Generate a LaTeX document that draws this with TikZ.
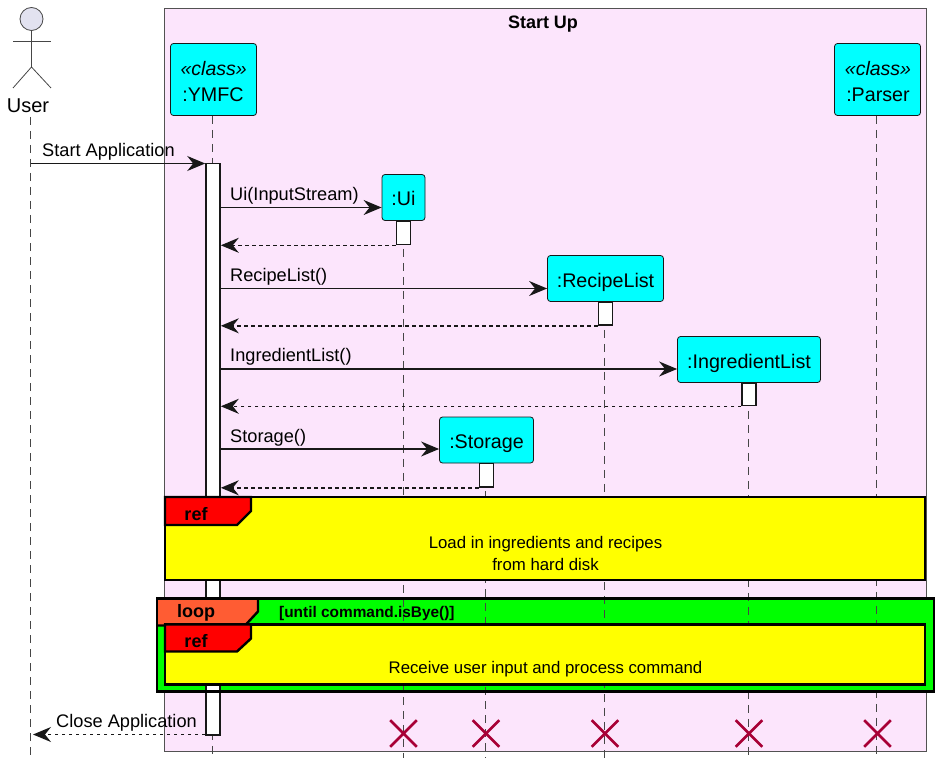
\documentclass[tikz,border=0pt]{standalone}
\usepackage{fontspec}
\setmainfont{Liberation Sans}
\usepackage{xcolor}
\usepackage{tikz}
\usetikzlibrary{arrows.meta}
\usetikzlibrary{calc}
\usetikzlibrary{shapes.misc}
\definecolor{linedark}{HTML}{181818}
\definecolor{groupfill}{HTML}{FCE5FC}
\definecolor{actorfill}{HTML}{E2E2F0}
\definecolor{headfill}{HTML}{00FFFF}
\definecolor{reffill}{HTML}{FFFF00}
\definecolor{tabred}{HTML}{FF0000}
\definecolor{loopfill}{HTML}{00FF00}
\definecolor{looptab}{HTML}{FF5C33}
\definecolor{destroyred}{HTML}{A80036}
\tikzset{
  head/.style={draw=linedark, line width=0.8pt, fill=headfill, rounded corners=3pt, inner sep=0pt, text height=17pt, text depth=0pt, font=\fontsize{19.7}{24}\selectfont},
  headtext/.style={anchor=base, inner sep=0pt, font=\fontsize{19.7}{24}\selectfont},
  lifeline/.style={draw=linedark!80, line width=0.8pt, dash pattern=on 8pt off 6pt},
  bar/.style={draw=linedark, line width=1.6pt, fill=white, minimum width=14pt, inner sep=0pt},
  msg/.style={draw=linedark, line width=1.4pt, -{Stealth[length=18pt, width=15pt, inset=6pt]}},
  ret/.style={msg, dash pattern=on 3.5pt off 3.5pt},
  msglabel/.style={anchor=west, inner sep=0pt, font=\fontsize{18.2}{22}\selectfont},
  reftext/.style={inner sep=0pt, align=center, font=\fontsize{16.8}{22}\selectfont},
  tabtext/.style={inner sep=0pt, font=\bfseries\fontsize{18}{22}\selectfont},
  frameline/.style={draw=black, line width=2.2pt, outer sep=0pt},
  tabline/.style={draw=black, line width=2.4pt},
  cross/.style={cross out, draw=destroyred, line width=2.6pt, minimum size=24pt, inner sep=0pt},
}
\begin{document}
\begin{tikzpicture}[x=1pt, y=-1pt]
    \useasboundingbox (0,0) rectangle (941,767);

    % group box
    \node[draw=linedark!75, line width=1.2pt, fill=groupfill, minimum width=762pt, minimum height=743pt, inner sep=0pt] (group) at (545.5,380) {};
    \node[tabtext] (groupTitle) at (543,24.5) {Start Up};

    % green body of the loop sits under lifelines and bars
    \node[fill=loopfill, minimum width=777pt, minimum height=93pt, inner sep=0pt] (loopBody) at (545.5,645) {};

    % heads
    \node[head, minimum width=86pt, minimum height=72pt, text height=0pt] (hYMFC) at (213.5,79.5) {};
    \node[head, minimum width=86pt, minimum height=72pt, text height=0pt] (hParser) at (877.5,79.5) {};
    \node[headtext, font=\itshape\fontsize{19.5}{24}\selectfont] (cYMFC) at (213.7,75.5) {«class»};
    \node[headtext] (tYMFC) at (213,101.5) {:YMFC};
    \node[headtext, font=\itshape\fontsize{19.5}{24}\selectfont] (cParser) at (878,75.5) {«class»};
    \node[headtext] (tParser) at (878,101.5) {:Parser};
    \node[head, minimum width=43pt, minimum height=46pt] (hUi) at (403.5,197.5) {:Ui};
    \node[head, minimum width=116pt, minimum height=46pt] (hRecipe) at (605.5,278.5) {:RecipeList};
    \node[head, minimum width=143pt, minimum height=46pt] (hIngredient) at (749,359.5) {:IngredientList};
    \node[head, minimum width=94pt, minimum height=46pt] (hStorage) at (486.5,440) {:Storage};

    % actor
    \node[circle, draw=linedark!80, line width=0.8pt, fill=actorfill, minimum size=23pt, inner sep=0pt] (actorHead) at (31.5,19) {};
    \coordinate (actorHip) at (31.5,67);
    \draw[draw=linedark!80, line width=0.8pt] (actorHead.south) -- (actorHip);
    \draw[draw=linedark!80, line width=0.8pt] (13,41) -- (51,41);
    \draw[draw=linedark!80, line width=0.8pt] (13,88) -- (actorHip) -- (51,88);
    \node[inner sep=0pt, font=\fontsize{20}{24}\selectfont] (actorName) at (28,106) {User};

    % lifelines
    \coordinate (endUser) at (30.5,757);
    \coordinate (endYMFC) at (212,755);
    \coordinate (endParser) at (876.5,755);
    \coordinate (endUi) at (403.5,758);
    \coordinate (endStorage) at (485.5,758);
    \coordinate (endRecipe) at (604.5,758);
    \coordinate (endIngredient) at (748,760);
    \coordinate (startUser) at (30.5,117);
    \draw[lifeline] (startUser) -- (endUser);
    \draw[lifeline] (hYMFC.south -| endYMFC) -- (endYMFC);
    \draw[lifeline] (hParser.south -| endParser) -- (endParser);
    \draw[lifeline] (hUi.south -| endUi) -- (endUi);
    \draw[lifeline] (hStorage.south -| endStorage) -- (endStorage);
    \draw[lifeline] (hRecipe.south -| endRecipe) -- (endRecipe);
    \draw[lifeline] (hIngredient.south -| endIngredient) -- (endIngredient);

    % activation bars
    \node[bar, minimum height=571.5pt] (barYMFC) at (213,449.25) {};
    \node[bar, minimum height=23.5pt] (barUi) at (403.5,232.75) {};
    \node[bar, minimum height=23pt] (barRecipe) at (605.5,313.5) {};
    \node[bar, minimum height=22.5pt] (barIngredient) at (749.25,394.25) {};
    \node[bar, minimum height=23.5pt] (barStorage) at (486.5,475.25) {};

    % calls
    \coordinate (mStart) at (30.5,163.5);
    \coordinate (mUi) at (0,207.5);
    \coordinate (mRecipe) at (0,288.5);
    \coordinate (mIngredient) at (0,369);
    \coordinate (mStorage) at (0,449);
    \coordinate (mClose) at (33,734.5);
    \draw[msg] (mStart) -- (barYMFC.west |- mStart);
    \draw[msg] (barYMFC.east |- mUi) -- (hUi.west |- mUi);
    \draw[msg] (barYMFC.east |- mRecipe) -- (hRecipe.west |- mRecipe);
    \draw[msg] (barYMFC.east |- mIngredient) -- (hIngredient.west |- mIngredient);
    \draw[msg] (barYMFC.east |- mStorage) -- (hStorage.west |- mStorage);
    \draw[ret] (barUi.south west) -- (barYMFC.east |- barUi.south);
    \draw[ret] (barRecipe.south west) -- (barYMFC.east |- barRecipe.south);
    \draw[ret] (barIngredient.south west) -- (barYMFC.east |- barIngredient.south);
    \draw[ret] (barStorage.south west) -- (barYMFC.east |- barStorage.south);
    \draw[ret] (barYMFC.west |- mClose) -- (mClose);

    \node[msglabel] (lStart) at (42,152) {Start Application};
    \node[msglabel] (lUi) at (230,196) {Ui(InputStream)};
    \node[msglabel] (lRecipe) at (230,277) {RecipeList()};
    \node[msglabel] (lIngredient) at (230,357) {IngredientList()};
    \node[msglabel] (lStorage) at (230,438) {Storage()};
    \node[msglabel] (lClose) at (56,723) {Close Application};

    % ref frames and loop
    \node[frameline, fill=reffill, minimum width=760pt, minimum height=83pt, inner sep=0pt] (refLoad) at (545,538.5) {};
    \fill[tabred] (refLoad.north west) -- ++(86,0) -- ++(0,14) -- ++(-14,14) -- ++(-72,0) -- cycle;
    \draw[tabline] (refLoad.north west) -- ++(86,0) -- ++(0,14) -- ++(-14,14) -- ++(-72,0) -- cycle;
    \node[tabtext] (refLoadTab) at (196,514) {ref};
    \node[reftext] (refLoadText) at (545.5,553) {Load in ingredients and recipes\\from hard disk};

    \node[draw=black, line width=2.6pt, outer sep=0pt, minimum width=777pt, minimum height=93pt, inner sep=0pt] (loopFrame) at (545.5,645) {};
    \fill[looptab] (loopFrame.north west) -- ++(101,0) -- ++(0,13) -- ++(-13,14) -- ++(-88,0) -- cycle;
    \draw[tabline] (loopFrame.north west) ++(101,0) -- ++(0,13) -- ++(-13,14) -- ++(-88,0);
    \draw[draw=black, line width=2.6pt] (loopFrame.north west) rectangle (loopFrame.south east);
    \node[tabtext] (loopTab) at (196,612.5) {loop};
    \node[anchor=west, inner sep=0pt, font=\bfseries\fontsize{15.4}{20}\selectfont] (loopGuard) at (279,613.5) {[until command.isBye()]};

    \node[frameline, fill=reffill, minimum width=760pt, minimum height=60pt, inner sep=0pt] (refInput) at (545,654.5) {};
    \fill[tabred] (refInput.north west) -- ++(86,0) -- ++(0,14) -- ++(-14,13) -- ++(-72,0) -- cycle;
    \draw[tabline] (refInput.north west) -- ++(86,0) -- ++(0,14) -- ++(-14,13) -- ++(-72,0) -- cycle;
    \node[tabtext] (refInputTab) at (196,641) {ref};
    \node[reftext] (refInputText) at (545.5,669.5) {Receive user input and process command};

    % destroyed lifelines
    \node[cross] (xUi) at (403.5,733.5) {};
    \node[cross] (xStorage) at (486,733.5) {};
    \node[cross] (xRecipe) at (605,733.5) {};
    \node[cross] (xIngredient) at (749,733.5) {};
    \node[cross] (xParser) at (877.5,733.5) {};
\end{tikzpicture}
\end{document}
